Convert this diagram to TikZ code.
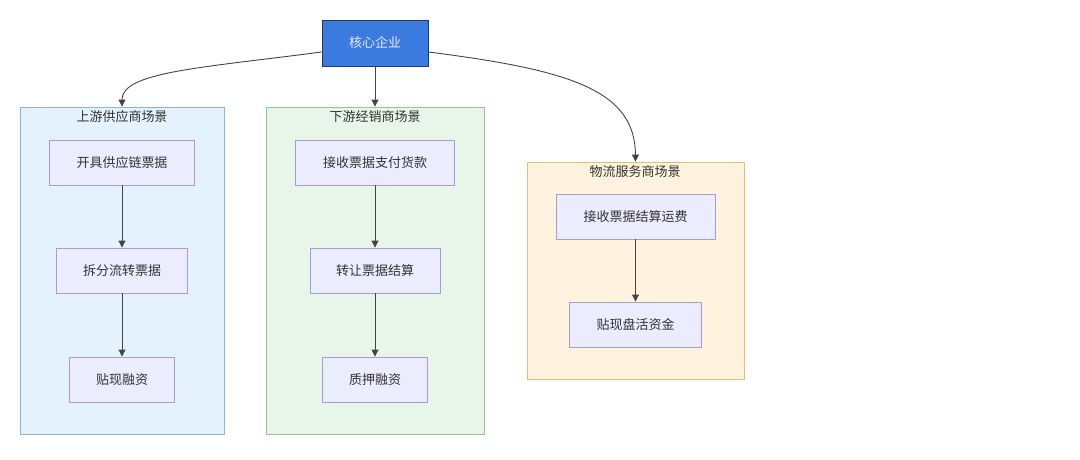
\documentclass[tikz,border=0pt]{standalone}
\usepackage{fontspec}
\setmainfont{Noto Sans CJK SC}
\usetikzlibrary{arrows.meta}

\definecolor{coreblue}{HTML}{3B7BE0}
\definecolor{coreline}{HTML}{223A6A}
\definecolor{stepfill}{HTML}{ECECFF}
\definecolor{stepline}{HTML}{A99CD6}
\definecolor{upfill}{HTML}{E3F2FD}
\definecolor{upline}{HTML}{8FB6CF}
\definecolor{downfill}{HTML}{E8F5E9}
\definecolor{downline}{HTML}{92C892}
\definecolor{logifill}{HTML}{FFF3E0}
\definecolor{logiline}{HTML}{E3BE70}
\definecolor{edgegray}{HTML}{444444}

\tikzset{
    stepbox/.style={draw=stepline, fill=stepfill, line width=0.9pt, minimum height=45pt, inner sep=0pt, font=\fontsize{13}{15}\selectfont, text=black!80},
    group/.style={draw=#1line, fill=#1fill, line width=0.9pt, minimum height=327pt, minimum width=204pt, inner sep=0pt},
    grouptitle/.style={font=\fontsize{13}{15}\selectfont, text=black!80},
    link/.style={draw=edgegray, line width=0.9pt, -{Triangle[length=7pt,width=7pt]}}
}

\begin{document}
\begin{tikzpicture}[x=1pt, y=-1pt]
        \useasboundingbox (0, 0) rectangle (1080, 459);

        \node[fill=coreblue, draw=coreline, line width=1pt, minimum width=106pt, minimum height=46pt,
              font=\fontsize{13}{15}\selectfont, text=white!92!blue] (core) at (375, 43) {核心企业};

        % the three groups
        \node[group=up, minimum width=204pt] (up) at (122, 270.5) {};
        \node[group=down, minimum width=218pt] (down) at (375, 270.5) {};
        \node[group=logi, minimum width=217pt, minimum height=217pt] (logi) at (635.5, 270.5) {};

        \node[grouptitle] (uptitle) at (122, 116.5) {上游供应商场景};
        \node[grouptitle] (downtitle) at (375, 116.5) {下游经销商场景};
        \node[grouptitle] (logititle) at (635, 171.5) {物流服务商场景};

        % steps
        \node[stepbox, minimum width=145pt] (up1) at (122, 162.5) {开具供应链票据};
        \node[stepbox, minimum width=131pt] (up2) at (122, 270.5) {拆分流转票据};
        \node[stepbox, minimum width=105pt] (up3) at (122, 379.5) {贴现融资};

        \node[stepbox, minimum width=159pt] (down1) at (375, 162.5) {接收票据支付货款};
        \node[stepbox, minimum width=130pt] (down2) at (375, 270.5) {转让票据结算};
        \node[stepbox, minimum width=105pt] (down3) at (375, 379.5) {质押融资};

        \node[stepbox, minimum width=159pt] (logi1) at (635.5, 216.5) {接收票据结算运费};
        \node[stepbox, minimum width=132pt] (logi2) at (635.5, 324.5) {贴现盘活资金};

        % links
        \draw[link] ([yshift=-9pt]core.west) .. controls (200, 68) and (122, 72) .. (up.north);
        \draw[link] (core.south) -- (down.north);
        \draw[link] ([yshift=-9pt]core.east) .. controls (570, 70) and (635, 90) .. (logi.north);

        \foreach \a/\b in {up1/up2, up2/up3, down1/down2, down2/down3, logi1/logi2} {
            \draw[link] (\a.south) -- (\b.north);
        }
    \end{tikzpicture}
\end{document}
